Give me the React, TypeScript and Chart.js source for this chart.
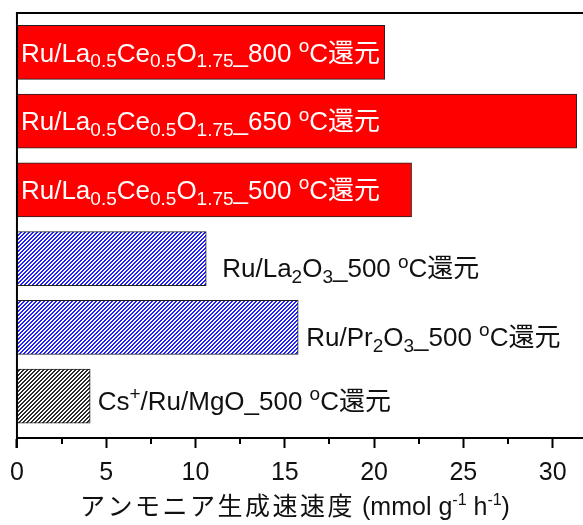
import React, { useEffect, useRef } from 'react';
import { Chart, registerables } from 'chart.js';

Chart.register(...registerables);

type Kind = 'n' | 'sub' | 'sup' | 'wide';
type Seg = [string, Kind];

// ---- data ----
const categories = [
  'Ru/La0.5Ce0.5O1.75_800°C還元',
  'Ru/La0.5Ce0.5O1.75_650°C還元',
  'Ru/La0.5Ce0.5O1.75_500°C還元',
  'Ru/La2O3_500°C還元',
  'Ru/Pr2O3_500°C還元',
  'Cs+/Ru/MgO_500°C還元',
];
const rates = [20.6, 31.35, 22.1, 10.6, 15.75, 4.1];
const xMajorTicks = [0, 5, 10, 15, 20, 25, 30];
const xMinorTicks = [2.5, 7.5, 12.5, 17.5, 22.5, 27.5];

const barLabels: Seg[][] = [
  [['Ru/La', 'n'], ['0.5', 'sub'], ['Ce', 'n'], ['0.5', 'sub'], ['O', 'n'], ['1.75', 'sub'], ['_800 ', 'n'], ['o', 'sup'], ['C還元', 'n']],
  [['Ru/La', 'n'], ['0.5', 'sub'], ['Ce', 'n'], ['0.5', 'sub'], ['O', 'n'], ['1.75', 'sub'], ['_650 ', 'n'], ['o', 'sup'], ['C還元', 'n']],
  [['Ru/La', 'n'], ['0.5', 'sub'], ['Ce', 'n'], ['0.5', 'sub'], ['O', 'n'], ['1.75', 'sub'], ['_500 ', 'n'], ['o', 'sup'], ['C還元', 'n']],
  [['Ru/La', 'n'], ['2', 'sub'], ['O', 'n'], ['3', 'sub'], ['_500 ', 'n'], ['o', 'sup'], ['C還元', 'n']],
  [['Ru/Pr', 'n'], ['2', 'sub'], ['O', 'n'], ['3', 'sub'], ['_500 ', 'n'], ['o', 'sup'], ['C還元', 'n']],
  [['Cs', 'n'], ['+', 'sup'], ['/Ru/MgO_500 ', 'n'], ['o', 'sup'], ['C還元', 'n']],
];
const axisTitle: Seg[] = [['アンモニア生成速速度', 'wide'], [' (mmol g', 'n'], ['-1', 'sup'], [' h', 'n'], ['-1', 'sup'], [')', 'n']];

// ---- styles ----
const barFillKinds = ['red', 'red', 'red', 'blue', 'blue', 'black'];
const labelInside = [true, true, true, false, false, false];
const labelDy = [0, 0, 0, 9.5, 9.5, 4.5];
const labelGap = [4, 4, 4, 16, 8, 7.5];
const FONT = '"Liberation Sans", "Noto Sans CJK JP", Arial, sans-serif';

function makeHatch(color: string): CanvasPattern | string {
  const c = document.createElement('canvas');
  c.width = 4;
  c.height = 4;
  const g = c.getContext('2d');
  if (!g) return color;
  g.fillStyle = '#ffffff';
  g.fillRect(0, 0, 4, 4);
  g.fillStyle = color;
  for (let y = 0; y < 4; y++) {
    for (let x = 0; x < 4; x++) {
      if ((x + y) % 4 < 2) g.fillRect(x, y, 1, 1);
    }
  }
  return g.createPattern(c, 'repeat') || color;
}

function segFont(kind: Kind, size: number, small: number) {
  const fs = kind === 'sub' || kind === 'sup' ? small : size;
  return `${fs}px ${FONT}`;
}

function measureRich(ctx: CanvasRenderingContext2D, segs: Seg[], size: number, small: number, wideSpacing = 0) {
  let w = 0;
  for (const [t, k] of segs) {
    ctx.font = segFont(k, size, small);
    w += ctx.measureText(t).width + (k === 'wide' ? wideSpacing * t.length : 0);
  }
  return w;
}

function drawRich(
  ctx: CanvasRenderingContext2D,
  segs: Seg[],
  x: number,
  yCenter: number,
  size: number,
  small: number,
  color: string,
  wideSpacing = 0,
) {
  const base = yCenter + (size * 0.716) / 2;
  ctx.save();
  ctx.fillStyle = color;
  ctx.textAlign = 'left';
  ctx.textBaseline = 'alphabetic';
  let cx = x;
  for (const [t, k] of segs) {
    ctx.font = segFont(k, size, small);
    const dy = k === 'sub' ? size * 0.22 : k === 'sup' ? -size * 0.38 : 0;
    if (k === 'wide') {
      for (const ch of t) {
        ctx.fillText(ch, cx, base);
        cx += ctx.measureText(ch).width + wideSpacing;
      }
    } else {
      ctx.fillText(t, cx, base + dy);
      cx += ctx.measureText(t).width;
    }
  }
  ctx.restore();
}

const decorPlugin = {
  id: 'decor',
  afterDatasetsDraw(chart: any) {
    const { ctx, chartArea, scales } = chart;
    const xs = scales.x;
    const ys = scales.y;
    ctx.save();
    ctx.strokeStyle = '#000';
    ctx.lineWidth = 2;
    // top frame
    ctx.beginPath();
    ctx.moveTo(chartArea.left - 1, chartArea.top);
    ctx.lineTo(chart.width, chartArea.top);
    ctx.stroke();
    // left axis
    ctx.beginPath();
    ctx.moveTo(chartArea.left, chartArea.top - 1);
    ctx.lineTo(chartArea.left, chartArea.bottom + 10);
    ctx.stroke();
    // minor ticks
    for (const v of xMinorTicks) {
      const px = Math.round(xs.getPixelForValue(v));
      ctx.beginPath();
      ctx.moveTo(px, chartArea.bottom);
      ctx.lineTo(px, chartArea.bottom + 6);
      ctx.stroke();
    }
    ctx.restore();

    // bar labels
    categories.forEach((_, i) => {
      const yc = ys.getPixelForValue(i) + labelDy[i];
      if (labelInside[i]) {
        drawRich(ctx, barLabels[i], chartArea.left + labelGap[i], yc, 26, 19, '#ffffff');
      } else {
        drawRich(ctx, barLabels[i], xs.getPixelForValue(rates[i]) + labelGap[i], yc, 26, 19, '#111111');
      }
    });

    // axis title
    const tw = measureRich(ctx, axisTitle, 25, 16, 2.5);
    drawRich(ctx, axisTitle, 295 - tw / 2, chartArea.bottom + 68, 25, 16, '#111111', 2.5);
  },
};

export default function App() {
  const ref = useRef<HTMLCanvasElement>(null);
  useEffect(() => {
    const canvas = ref.current;
    if (!canvas) return;
    const fills = barFillKinds.map((k) =>
      k === 'red' ? '#ff0000' : k === 'blue' ? makeHatch('#1f1fff') : makeHatch('#2a2a2a'),
    );
    const chart = new Chart(canvas, {
      type: 'bar',
      data: {
        labels: categories,
        datasets: [
          {
            data: rates.map((v, i) => ({ x: v, y: i })) as any,
            backgroundColor: fills as any,
            borderColor: '#222222',
            borderWidth: 1,
            borderSkipped: false,
            barThickness: 54,
          },
        ],
      },
      options: {
        indexAxis: 'y',
        responsive: false,
        animation: false,
        layout: { padding: { left: 15, top: 13, right: 0, bottom: 27 } },
        plugins: { legend: { display: false }, tooltip: { enabled: false } },
        scales: {
          x: {
            type: 'linear',
            position: 'bottom',
            min: 0,
            max: 31.7,
            afterBuildTicks: (scale: any) => {
              scale.ticks = xMajorTicks.map((v) => ({ value: v }));
            },
            ticks: {
              includeBounds: false,
              maxRotation: 0,
              autoSkip: false,
              padding: 10,
              color: '#111111',
              font: { family: FONT, size: 25 },
            },
            grid: { drawOnChartArea: false, tickLength: 10, tickWidth: 2, tickColor: '#000000' },
            border: { color: '#000000', width: 2 },
          },
          y: {
            type: 'linear',
            reverse: true,
            offset: false,
            min: -0.573,
            max: 5.61,
            display: false,
          },
        },
      },
      plugins: [decorPlugin],
    });
    return () => chart.destroy();
  }, []);
  return (
    <div style={{ position: 'fixed', left: 0, top: 0, width: 583, height: 525, overflow: 'hidden', background: '#fff' }}>
      <canvas ref={ref} width={583} height={525} style={{ display: 'block' }} />
    </div>
  );
}
